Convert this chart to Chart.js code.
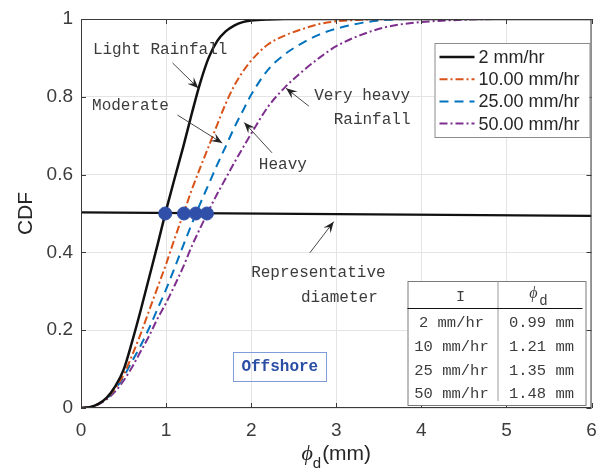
<!DOCTYPE html>
<html>
<head>
<meta charset="utf-8">
<script src="https://cdn.jsdelivr.net/npm/chart.js@4.4.1/dist/chart.umd.min.js"></script>
<style>
  html, body { margin: 0; padding: 0; background: #fff; }
  #wrap { width: 599px; height: 474px; }
</style>
</head>
<body>
<div id="wrap"><canvas id="c"></canvas></div>
<script>
// drop diameter (mm) sample points shared by all CDF curves
const phiD = [0, 0.1, 0.2, 0.3, 0.4, 0.5, 0.6, 0.7, 0.8, 0.9, 1.0, 1.1, 1.2, 1.3, 1.4, 1.5, 1.6, 1.7, 1.8, 1.9, 2.0,
              2.2, 2.4, 2.6, 2.8, 3.0, 3.3, 3.6, 4.0, 4.5, 5.0, 5.5, 6.0];
const cdf2  = [0, 0.002, 0.01, 0.026, 0.055, 0.098, 0.17, 0.25, 0.335, 0.42, 0.508, 0.59, 0.67, 0.755, 0.835, 0.9, 0.943, 0.968, 0.983, 0.992, 0.996,
               0.999, 1, 1, 1, 1, 1, 1, 1, 1, 1, 1, 1];
const cdf10 = [0, 0.002, 0.01, 0.025, 0.05, 0.085, 0.135, 0.19, 0.25, 0.31, 0.37, 0.435, 0.497, 0.56, 0.617, 0.672, 0.728, 0.782, 0.828, 0.864, 0.893,
               0.935, 0.958, 0.974, 0.987, 0.994, 0.998, 1, 1, 1, 1, 1, 1];
const cdf25 = [0, 0.002, 0.01, 0.024, 0.048, 0.08, 0.12, 0.16, 0.205, 0.255, 0.305, 0.36, 0.417, 0.472, 0.525, 0.575, 0.625, 0.672, 0.72, 0.763, 0.805,
               0.87, 0.91, 0.938, 0.96, 0.975, 0.99, 0.998, 1, 1, 1, 1, 1];
const cdf50 = [0, 0.002, 0.009, 0.022, 0.042, 0.07, 0.105, 0.145, 0.185, 0.23, 0.27, 0.315, 0.362, 0.415, 0.462, 0.507, 0.55, 0.59, 0.63, 0.668, 0.705,
               0.775, 0.825, 0.865, 0.9, 0.93, 0.96, 0.98, 0.992, 0.998, 1, 1, 1];

const seriesNames = ['2 mm/hr', '10.00 mm/hr', '25.00 mm/hr', '50.00 mm/hr'];

// representative diameter line (CDF ~ 0.5) and the medians marked on it
const repLineX = [0, 6];
const repLineY = [0.503, 0.494];
const repD = [0.99, 1.21, 1.35, 1.48];
const repLevel = [0.5, 0.5, 0.5, 0.5];

// inset table
const tableI = ['2 mm/hr', '10 mm/hr', '25 mm/hr', '50 mm/hr'];
const tablePhi = ['0.99 mm', '1.21 mm', '1.35 mm', '1.48 mm'];

const xTicks = [0, 1, 2, 3, 4, 5, 6];
const yTicks = [0, 0.2, 0.4, 0.6, 0.8, 1];

const pts = (xs, ys) => xs.map((x, i) => ({ x, y: ys[i] }));

const styles = [
  { color: '#111111', dash: [] },
  { color: '#D95319', dash: [8, 3, 2, 3] },
  { color: '#0072BD', dash: [9, 6] },
  { color: '#7E2F8E', dash: [8, 3, 2, 3] }
];
const curves = [cdf2, cdf10, cdf25, cdf50];

const datasets = curves.map((ys, i) => ({
  label: seriesNames[i],
  data: pts(phiD, ys),
  borderColor: styles[i].color,
  borderDash: styles[i].dash,
  borderWidth: i === 0 ? 2.5 : 2,
  pointRadius: 0,
  cubicInterpolationMode: 'monotone',
  fill: false,
  order: 2
}));
datasets.push({
  label: 'rep',
  data: pts(repLineX, repLineY),
  borderColor: '#111111',
  borderWidth: 2.2,
  pointRadius: 0,
  order: 3
});
datasets.push({
  label: 'median',
  data: pts(repD, repLevel),
  showLine: false,
  pointRadius: 6.5,
  pointBackgroundColor: '#2F4FA8',
  pointBorderColor: '#2F4FA8',
  order: 1
});

// annotations, in data units
const notes = [
  { t: 'Light Rainfall', x: 0.14, y: 0.92 },
  { t: 'Moderate', x: 0.13, y: 0.776 },
  { t: 'Heavy', x: 2.09, y: 0.625 },
  { t: 'Very heavy', x: 2.74, y: 0.802 },
  { t: 'Rainfall', x: 2.97, y: 0.74 },
  { t: 'Representative', x: 2.0, y: 0.347 },
  { t: 'diameter', x: 2.585, y: 0.283 }
];
const arrows = [
  [1.076, 0.887, 1.38, 0.822],
  [1.134, 0.753, 1.66, 0.681],
  [2.245, 0.656, 1.918, 0.734],
  [2.678, 0.776, 2.41, 0.822],
  [2.69, 0.399, 2.97, 0.479]
];

function drawArrow(ctx, x0, y0, x1, y1) {
  ctx.beginPath(); ctx.moveTo(x0, y0); ctx.lineTo(x1, y1); ctx.stroke();
  const a = Math.atan2(y1 - y0, x1 - x0), L = 11, W = 4.5;
  const c = Math.cos(a), s = Math.sin(a);
  const bx = x1 - L * c, by = y1 - L * s;
  const nx = x1 - L * 0.62 * c, ny = y1 - L * 0.62 * s;
  ctx.beginPath();
  ctx.moveTo(x1, y1);
  ctx.lineTo(bx - W * s, by + W * c);
  ctx.lineTo(nx, ny);
  ctx.lineTo(bx + W * s, by - W * c);
  ctx.closePath(); ctx.fill();
}

const decor = {
  id: 'decor',
  afterDraw(chart) {
    const ctx = chart.ctx, ca = chart.chartArea;
    const xs = chart.scales.x, ys = chart.scales.y;
    ctx.save();

    // axes box with inward ticks
    ctx.strokeStyle = '#3a3a3a'; ctx.lineWidth = 1;
    ctx.strokeRect(ca.left + 0.5, ca.top + 0.5, ca.right - ca.left - 1, ca.bottom - ca.top - 1);
    ctx.beginPath();
    xTicks.forEach(v => {
      const p = Math.round(xs.getPixelForValue(v)) + 0.5;
      ctx.moveTo(p, ca.bottom); ctx.lineTo(p, ca.bottom - 5);
      ctx.moveTo(p, ca.top); ctx.lineTo(p, ca.top + 5);
    });
    yTicks.forEach(v => {
      const p = Math.round(ys.getPixelForValue(v)) + 0.5;
      ctx.moveTo(ca.left, p); ctx.lineTo(ca.left + 5, p);
      ctx.moveTo(ca.right, p); ctx.lineTo(ca.right - 5, p);
    });
    ctx.stroke();

    // x axis label  phi_d(mm)
    const cx = (ca.left + ca.right) / 2;
    ctx.fillStyle = '#262626';
    ctx.textBaseline = 'alphabetic';
    ctx.font = 'italic 22px "Liberation Serif"';
    const wPhi = ctx.measureText('ϕ').width;
    ctx.font = '15px "Liberation Sans"';
    const wD = ctx.measureText('d').width;
    ctx.font = '21px "Liberation Sans"';
    const wMm = ctx.measureText('(mm)').width;
    let x0 = cx - (wPhi + wD + 1 + wMm) / 2;
    const base = 460;
    ctx.font = 'italic 22px "Liberation Serif"';
    ctx.fillText('ϕ', x0, base);
    ctx.font = '15px "Liberation Sans"';
    ctx.fillText('d', x0 + wPhi, base + 8);
    ctx.font = '21px "Liberation Sans"';
    ctx.fillText('(mm)', x0 + wPhi + wD + 1, base);

    // annotations
    ctx.fillStyle = '#3c3c3c';
    ctx.strokeStyle = '#333333';
    ctx.font = '16px "Liberation Mono"';
    ctx.textBaseline = 'middle';
    ctx.textAlign = 'left';
    notes.forEach(n => ctx.fillText(n.t, xs.getPixelForValue(n.x), ys.getPixelForValue(n.y)));
    ctx.lineWidth = 0.9;
    ctx.fillStyle = '#222222';
    arrows.forEach(a => drawArrow(ctx, xs.getPixelForValue(a[0]), ys.getPixelForValue(a[1]),
                                   xs.getPixelForValue(a[2]), ys.getPixelForValue(a[3])));

    // legend
    const lw = 155, lh = 94;
    const lx = ca.right - 2 - lw, ly = ca.top + 24;
    ctx.fillStyle = '#ffffff';
    ctx.fillRect(lx, ly, lw, lh);
    ctx.strokeStyle = '#8c8c8c'; ctx.lineWidth = 1;
    ctx.strokeRect(lx + 0.5, ly + 0.5, lw, lh);
    ctx.font = '18px "Liberation Sans"';
    ctx.textBaseline = 'middle';
    seriesNames.forEach((name, i) => {
      const yy = ly + 14 + i * 22.2;
      ctx.strokeStyle = styles[i].color;
      ctx.lineWidth = i === 0 ? 2.5 : 2;
      ctx.setLineDash(styles[i].dash);
      ctx.beginPath(); ctx.moveTo(lx + 5, yy); ctx.lineTo(lx + 40, yy); ctx.stroke();
      ctx.setLineDash([]);
      ctx.fillStyle = '#262626';
      ctx.fillText(name, lx + 44, yy + 1);
    });

    // inset table
    const tx = ca.right - 184, ty = ca.bottom - 127, tw = 178, th = 124;
    ctx.fillStyle = '#ffffff';
    ctx.fillRect(tx, ty, tw, th);
    ctx.strokeStyle = '#7a7a7a'; ctx.lineWidth = 1;
    ctx.strokeRect(tx + 0.5, ty + 0.5, tw, th);
    ctx.strokeStyle = '#9a9a9a';
    ctx.beginPath(); ctx.moveTo(tx + 90.5, ty); ctx.lineTo(tx + 90.5, ty + th - 4); ctx.stroke();
    ctx.strokeStyle = '#111111';
    ctx.beginPath(); ctx.moveTo(tx, ty + 27.5); ctx.lineTo(tx + 175, ty + 27.5); ctx.stroke();
    ctx.fillStyle = '#3c3c3c';
    ctx.textAlign = 'center';
    ctx.font = '15px "Liberation Mono"';
    ctx.fillText('I', tx + 53, ty + 16);
    ctx.font = 'italic 16px "Liberation Serif"';
    ctx.fillText('ϕ', tx + 126, ty + 13);
    ctx.font = '14px "Liberation Mono"';
    ctx.fillText('d', tx + 136, ty + 20);
    ctx.font = '15.5px "Liberation Mono"';
    tableI.forEach((s, i) => {
      const yy = ty + 42 + i * 23.7;
      ctx.fillText(s, tx + 44, yy);
      ctx.fillText(tablePhi[i], tx + 134, yy);
    });

    // Offshore tag
    const ox = xs.getPixelForValue(1.79), oy = ys.getPixelForValue(0.144);
    ctx.strokeStyle = '#7f9bd8'; ctx.lineWidth = 1;
    ctx.strokeRect(Math.round(ox) + 0.5, Math.round(oy) + 0.5, 93, 29);
    ctx.fillStyle = '#2B4EA5';
    ctx.font = 'bold 16px "Liberation Mono"';
    ctx.fillText('Offshore', ox + 46.5, oy + 15);

    ctx.restore();
  }
};

const tickFont = { family: '"Liberation Sans", Arial, sans-serif', size: 19 };
const fmt = v => String(Number(v.toFixed(1)));

new Chart(document.getElementById('c'), {
  type: 'line',
  data: { datasets },
  options: {
    responsive: true,
    maintainAspectRatio: false,
    animation: false,
    layout: { padding: { top: 19, right: 5, left: 0, bottom: 0 } },
    plugins: { legend: { display: false }, tooltip: { enabled: false } },
    scales: {
      x: {
        type: 'linear', min: 0, max: 6,
        afterFit: s => { s.height = 66; s.paddingLeft = 0; s.paddingRight = 0; },
        afterBuildTicks: s => { s.ticks = xTicks.map(v => ({ value: v })); },
        grid: { color: '#e4e4e4', drawTicks: false },
        border: { display: false },
        ticks: { color: '#3c3c3c', font: tickFont, padding: 11, maxRotation: 0, callback: fmt }
      },
      y: {
        type: 'linear', min: 0, max: 1,
        afterFit: s => { s.width = 81; s.paddingTop = 0; s.paddingBottom = 0; },
        afterBuildTicks: s => { s.ticks = yTicks.map(v => ({ value: v })); },
        grid: { color: '#e4e4e4', drawTicks: false },
        border: { display: false },
        ticks: { color: '#3c3c3c', font: tickFont, padding: 8, callback: fmt },
        title: { display: true, text: 'CDF', color: '#262626',
                 font: { family: '"Liberation Sans", Arial, sans-serif', size: 21 },
                 padding: { top: 14, bottom: 0 } }
      }
    }
  },
  plugins: [decor]
});
</script>
</body>
</html>
